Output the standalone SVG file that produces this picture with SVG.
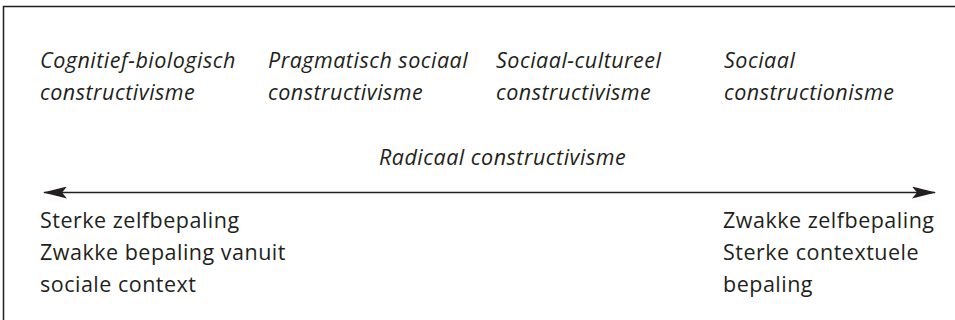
<svg xmlns="http://www.w3.org/2000/svg" width="955" height="320" viewBox="0 0 955 320">
  <style>
    text { font-family: "Open Sans", "Noto Sans", "DejaVu Sans", sans-serif; fill: #231f20; font-size: 21.5px; letter-spacing: 0.5px; }
    .it { font-style: italic; }
    .frame { fill: none; stroke: #231f20; stroke-width: 1.5; }
    .axis { stroke: #231f20; stroke-width: 1.5; fill: none; }
    .head { fill: #231f20; }
  </style>
  <defs>
    <marker id="arrow" viewBox="0 0 24 12" refX="23" refY="6" markerWidth="24" markerHeight="12" markerUnits="userSpaceOnUse" orient="auto-start-reverse">
      <path class="head" d="M0,0 L24,6 L0,12 L5,6 Z"/>
    </marker>
  </defs>

  <!-- open frame: top and left edges only -->
  <path class="frame" d="M3.5,320 L3.5,6.5 L955,6.5"/>

  <!-- positions along the spectrum -->
  <g id="cognitief-biologisch">
    <text class="it" x="40" y="68">Cognitief-biologisch</text>
    <text class="it" x="40" y="100">constructivisme</text>
  </g>
  <g id="pragmatisch-sociaal">
    <text class="it" x="268" y="68">Pragmatisch sociaal</text>
    <text class="it" x="268" y="100">constructivisme</text>
  </g>
  <g id="sociaal-cultureel">
    <text class="it" x="496" y="68">Sociaal-cultureel</text>
    <text class="it" x="496" y="100">constructivisme</text>
  </g>
  <g id="sociaal-constructionisme">
    <text class="it" x="724" y="68">Sociaal</text>
    <text class="it" x="724" y="100">constructionisme</text>
  </g>
  <g id="radicaal">
    <text class="it" x="379" y="165">Radicaal constructivisme</text>
  </g>

  <!-- double-headed axis -->
  <g id="connectors">
    <line class="axis" x1="44" y1="192.5" x2="935" y2="192.5" marker-start="url(#arrow)" marker-end="url(#arrow)"/>
  </g>

  <!-- pole descriptions -->
  <g id="pool-links">
    <text x="40" y="228">Sterke zelfbepaling</text>
    <text x="40" y="260">Zwakke bepaling vanuit</text>
    <text x="40" y="292">sociale context</text>
  </g>
  <g id="pool-rechts">
    <text x="723" y="228">Zwakke zelfbepaling</text>
    <text x="723" y="260">Sterke contextuele</text>
    <text x="723" y="292">bepaling</text>
  </g>
</svg>
